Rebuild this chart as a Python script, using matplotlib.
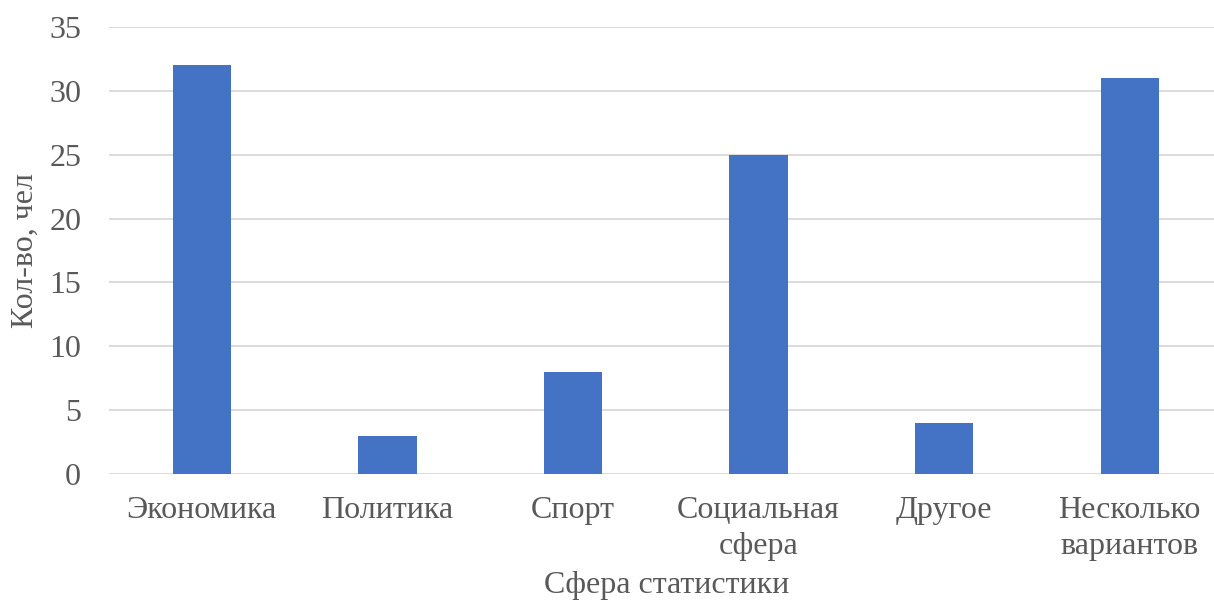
import matplotlib.pyplot as plt

categories = ['Экономика', 'Политика', 'Спорт', 'Социальная\nсфера', 'Другое', 'Несколько\nвариантов']
counts = [32, 3, 8, 25, 4, 31]
yticks = [0, 5, 10, 15, 20, 25, 30, 35]

plt.rcParams['font.family'] = ['Liberation Serif', 'DejaVu Serif']
text_color = '#595959'
fs = 23

fig = plt.figure(figsize=(12.14, 6.02), dpi=100)
# axes in figure fractions: left edge at x=109px, 0 at y=474px, 35 at y=27px
ax = fig.add_axes([109 / 1214, 1 - 474 / 602, 1 - 109 / 1214, (474 - 27) / 602])

x = range(len(categories))
ax.bar(x, counts, width=0.315, color='#4472C4', zorder=3)

ax.set_ylim(0, 35)
ax.set_xlim(-0.5, -0.5 + (1214 - 109) / 185.6)
ax.set_yticks(yticks)
ax.set_xticks(list(x))
ax.set_xticklabels(categories, linespacing=1.3)
ax.yaxis.grid(True, color='#d9d9d9', linewidth=1.3, zorder=0)
ax.tick_params(axis='both', length=0, labelsize=fs, colors=text_color)
ax.tick_params(axis='y', pad=20)
ax.tick_params(axis='x', pad=16)
for s in ax.spines.values():
    s.set_visible(False)

ax.set_ylabel('Кол-во, чел', fontsize=fs, color=text_color)
ax.set_xlabel('Сфера статистики', fontsize=fs, color=text_color)
ax.yaxis.set_label_coords((25 - 109) / 1105, 0.50)
ax.xaxis.set_label_coords((667 - 109) / 1105, (474 - 585) / 447)
ax.yaxis.label.set_va('center')
ax.xaxis.label.set_va('center')

fig.savefig('out.png', dpi=100)
